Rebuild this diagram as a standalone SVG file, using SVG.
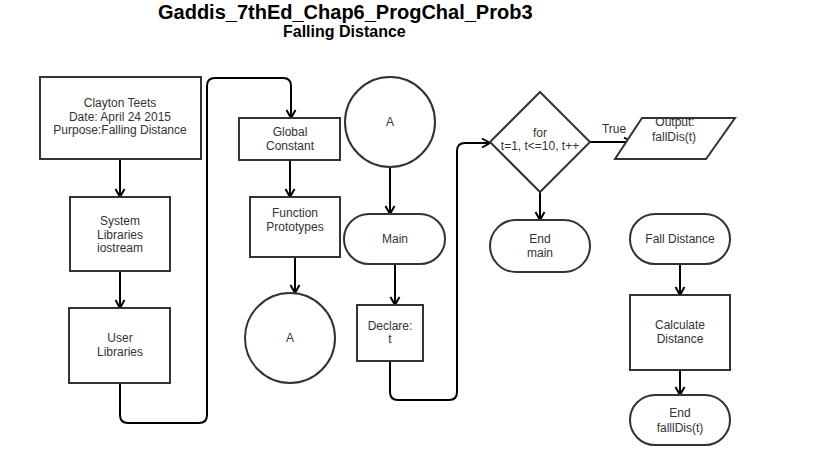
<svg xmlns="http://www.w3.org/2000/svg" width="816" height="465" viewBox="0 0 816 465">
<defs>
<style>
.n{fill:#fff;stroke:#333;stroke-width:2}
.t{font-family:"Liberation Sans",Arial,sans-serif;font-size:12px;fill:#333;text-anchor:middle}
.c{fill:none;stroke:#000;stroke-width:2}
.h{font-family:"Liberation Sans",Arial,sans-serif;font-weight:bold;fill:#000}
</style>
<marker id="arr" markerUnits="userSpaceOnUse" markerWidth="12" markerHeight="12" viewBox="0 0 12 12" refX="10" refY="6" orient="auto">
<path d="M2,1.5 L10,6 L2,10.5" fill="none" stroke="#000" stroke-width="2"/>
</marker>
</defs>
<rect width="816" height="465" fill="#fff"/>
<text class="h" x="158" y="19" font-size="20">Gaddis_7thEd_Chap6_ProgChal_Prob3</text>
<text class="h" x="283" y="37" font-size="16">Falling Distance</text>

<g id="connectors">
<path class="c" marker-end="url(#arr)" d="M120,159 L120,197"/>
<path class="c" marker-end="url(#arr)" d="M120,271 L120,308"/>
<path class="c" marker-end="url(#arr)" d="M120,383 L120,415 Q120,423 128,423 L199,423 Q207,423 207,415 L207,86 Q207,78 215,78 L283,78 Q291,78 291,86 L291,118"/>
<path class="c" marker-end="url(#arr)" d="M290,160 L290,197"/>
<path class="c" marker-end="url(#arr)" d="M295,257 L295,293"/>
<path class="c" marker-end="url(#arr)" d="M390,167 L390,214"/>
<path class="c" marker-end="url(#arr)" d="M395,264 L395,305"/>
<path class="c" marker-end="url(#arr)" d="M390,361 L390,392 Q390,400 398,400 L449,400 Q457,400 457,392 L457,151 Q457,143 465,143 L490,143"/>
<path class="c" marker-end="url(#arr)" d="M590,142 L632,142"/>
<text class="t" x="614" y="133">True</text>
<path class="c" marker-end="url(#arr)" d="M540,192 L540,220"/>
<path class="c" marker-end="url(#arr)" d="M680,264 L680,295"/>
<path class="c" marker-end="url(#arr)" d="M680,370 L680,395"/>
</g>

<g id="header">
<rect class="n" x="40" y="77" width="161" height="82"/>
<text class="t" x="120" y="107">Clayton Teets</text>
<text class="t" x="120" y="121">Date: April 24 2015</text>
<text class="t" x="120" y="134">Purpose:Falling Distance</text>
</g>
<g id="syslib">
<rect class="n" x="70" y="197" width="100" height="74"/>
<text class="t" x="120" y="225">System</text>
<text class="t" x="120" y="239">Libraries</text>
<text class="t" x="120" y="252">iostream</text>
</g>
<g id="userlib">
<rect class="n" x="69" y="308" width="101" height="75"/>
<text class="t" x="120" y="342">User</text>
<text class="t" x="120" y="356">Libraries</text>
</g>
<g id="globalconst">
<rect class="n" x="239" y="118" width="101" height="42"/>
<text class="t" x="290" y="136">Global</text>
<text class="t" x="290" y="150">Constant</text>
</g>
<g id="protos">
<rect class="n" x="250" y="197" width="90" height="60"/>
<text class="t" x="295" y="217">Function</text>
<text class="t" x="295" y="231">Prototypes</text>
</g>
<g id="connA1">
<circle class="n" cx="290" cy="338" r="45"/>
<text class="t" x="290" y="342">A</text>
</g>
<g id="connA2">
<circle class="n" cx="390" cy="122" r="45"/>
<text class="t" x="390" y="126">A</text>
</g>
<g id="main">
<rect class="n" x="344" y="214" width="101" height="50" rx="25" ry="25"/>
<text class="t" x="395" y="243">Main</text>
</g>
<g id="declare">
<rect class="n" x="357" y="305" width="66" height="56"/>
<text class="t" x="390" y="330">Declare:</text>
<text class="t" x="390" y="343">t</text>
</g>
<g id="loop">
<polygon class="n" points="540,92 590,142 540,192 490,142"/>
<text class="t" x="540" y="137">for</text>
<text class="t" x="540" y="150">t=1, t&lt;=10, t++</text>
</g>
<g id="output">
<polygon class="n" points="642,118 735,118 706,159 615,159"/>
<text class="t" x="675" y="126">Output:</text>
<text class="t" x="674" y="141">fallDis(t)</text>
</g>
<g id="endmain">
<rect class="n" x="490" y="220" width="100" height="52" rx="26" ry="26"/>
<text class="t" x="540" y="243">End</text>
<text class="t" x="540" y="257">main</text>
</g>
<g id="falldist">
<rect class="n" x="630" y="214" width="100" height="50" rx="25" ry="25"/>
<text class="t" x="680" y="243">Fall Distance</text>
</g>
<g id="calc">
<rect class="n" x="630" y="295" width="100" height="75"/>
<text class="t" x="680" y="329">Calculate</text>
<text class="t" x="680" y="343">Distance</text>
</g>
<g id="endfall">
<rect class="n" x="630" y="395" width="100" height="50" rx="25" ry="25"/>
<text class="t" x="680" y="417">End</text>
<text class="t" x="680" y="432">falllDis(t)</text>
</g>
</svg>
